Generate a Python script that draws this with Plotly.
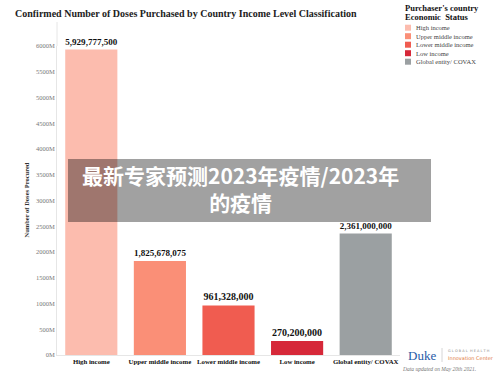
import plotly.graph_objects as go

categories = ["High income", "Upper middle income", "Lower middle income", "Low income", "Global entity/ COVAX"]
doses = [5929777500, 1825678075, 961328000, 270200000, 2361000000]
colors = ["#fcbcae", "#fa8f77", "#f05c50", "#d62839", "#9ba0a2"]
legend_title_lines = ["Purchaser's country", "Economic  Status"]
title = "Confirmed Number of Doses Purchased by Country Income Level Classification"
y_title = "Number of Doses Procured"
overlay_text = "最新专家预测2023年疫情/2023年<br>的疫情"

W, H = 500, 382
ML, MR, MT, MB = 57, 100, 46, 27
PW, PH = W - ML - MR, H - MT - MB

def px(x):
    return (x - ML) / PW

def py(y):
    return 1 - (y - MT) / PH

SERIF = "Liberation Serif"

fig = go.Figure()
fig.add_trace(go.Bar(
    x=categories,
    y=[d / 1e6 for d in doses],
    marker=dict(color=colors, line=dict(width=0)),
    text=[f"{d:,}" for d in doses],
    textposition="outside",
    textfont=dict(family=SERIF, size=10, color="#111111", weight="bold"),
    cliponaxis=False,
    showlegend=False,
))

shapes = []
annotations = []

# Manual legend
for j, line in enumerate(legend_title_lines):
    annotations.append(dict(xref="paper", yref="paper", x=px(403), y=py(8 + 9 * j), xanchor="left",
                            yanchor="middle", text="<b>" + line + "</b>", showarrow=False, align="left",
                            font=dict(family=SERIF, size=8.5, color="#111111")))
for i, (c, col) in enumerate(zip(categories, colors)):
    yc = 27.7 + i * 8.5
    shapes.append(dict(type="rect", xref="paper", yref="paper", x0=px(405), x1=px(411),
                       y0=py(yc + 3), y1=py(yc - 3), fillcolor=col, line=dict(width=0)))
    annotations.append(dict(xref="paper", yref="paper", x=px(414), y=py(yc), xanchor="left", yanchor="middle",
                            text=c, showarrow=False, font=dict(family=SERIF, size=6.5, color="#444444")))

# Axis line extension above plot
shapes.append(dict(type="line", xref="paper", yref="paper", x0=0, x1=0, y0=1, y1=py(22),
                   line=dict(color="#e6e6e6", width=1)))

# Y axis title
annotations.append(dict(xref="paper", yref="paper", x=px(20), y=py(200), textangle=-90,
                        text="<b>" + y_title + "</b>", showarrow=False,
                        font=dict(family=SERIF, size=6.5, color="#333333")))

# Overlay banner
shapes.append(dict(type="rect", xref="paper", yref="paper", x0=px(68), x1=px(431), y0=py(222), y1=py(159),
                   fillcolor="rgba(0,0,0,0.37)", line=dict(width=0), layer="above"))
annotations.append(dict(xref="paper", yref="paper", x=px(240), y=py(188.5), xanchor="center", yanchor="middle",
                        text="<b>" + overlay_text + "</b>", showarrow=False,
                        font=dict(family="Noto Sans CJK SC", size=21, color="white")))

# Duke logo
annotations.append(dict(xref="paper", yref="paper", x=px(406), y=py(355), xanchor="left", yanchor="middle",
                        text="Duke", showarrow=False, font=dict(family=SERIF, size=13, color="#2a5ca8")))
shapes.append(dict(type="line", xref="paper", yref="paper", x0=px(442), x1=px(442), y0=py(362), y1=py(348),
                   line=dict(color="#cccccc", width=0.8)))
annotations.append(dict(xref="paper", yref="paper", x=px(446), y=py(351), xanchor="left", yanchor="middle",
                        text="G L O B A L  H E A L T H", showarrow=False,
                        font=dict(family="DejaVu Sans", size=3.5, color="#888888")))
annotations.append(dict(xref="paper", yref="paper", x=px(446), y=py(357.5), xanchor="left", yanchor="middle",
                        text="Innovation Center", showarrow=False,
                        font=dict(family="DejaVu Sans", size=5, color="#e07a3a")))
annotations.append(dict(xref="paper", yref="paper", x=px(400), y=py(369), xanchor="left", yanchor="middle",
                        text="<i>Data updated on May 20th 2021.</i>", showarrow=False,
                        font=dict(family=SERIF, size=5.5, color="#777777")))

fig.update_layout(
    width=W, height=H,
    margin=dict(l=ML, r=MR, t=MT, b=MB),
    paper_bgcolor="white", plot_bgcolor="white",
    title=dict(text="<b>" + title + "</b>", x=15 / W, xanchor="left", y=1 - 13 / H, yanchor="middle",
               font=dict(family=SERIF, size=10, color="#222222")),
    bargap=0.24,
    shapes=shapes,
    annotations=annotations,
    xaxis=dict(showgrid=False, showline=True, linecolor="#e6e6e6", linewidth=1, ticks="",
               tickangle=0, automargin=False,
               tickfont=dict(family=SERIF, size=6.8, color="#111111", weight="bold")),
    yaxis=dict(range=[0, 6000], dtick=500, ticksuffix="M", showgrid=False, zeroline=False,
               automargin=False,
               showline=True, linecolor="#e6e6e6", linewidth=1, ticks="",
               tickfont=dict(family=SERIF, size=6.5, color="#777777")),
)

fig.write_html("out.html")
